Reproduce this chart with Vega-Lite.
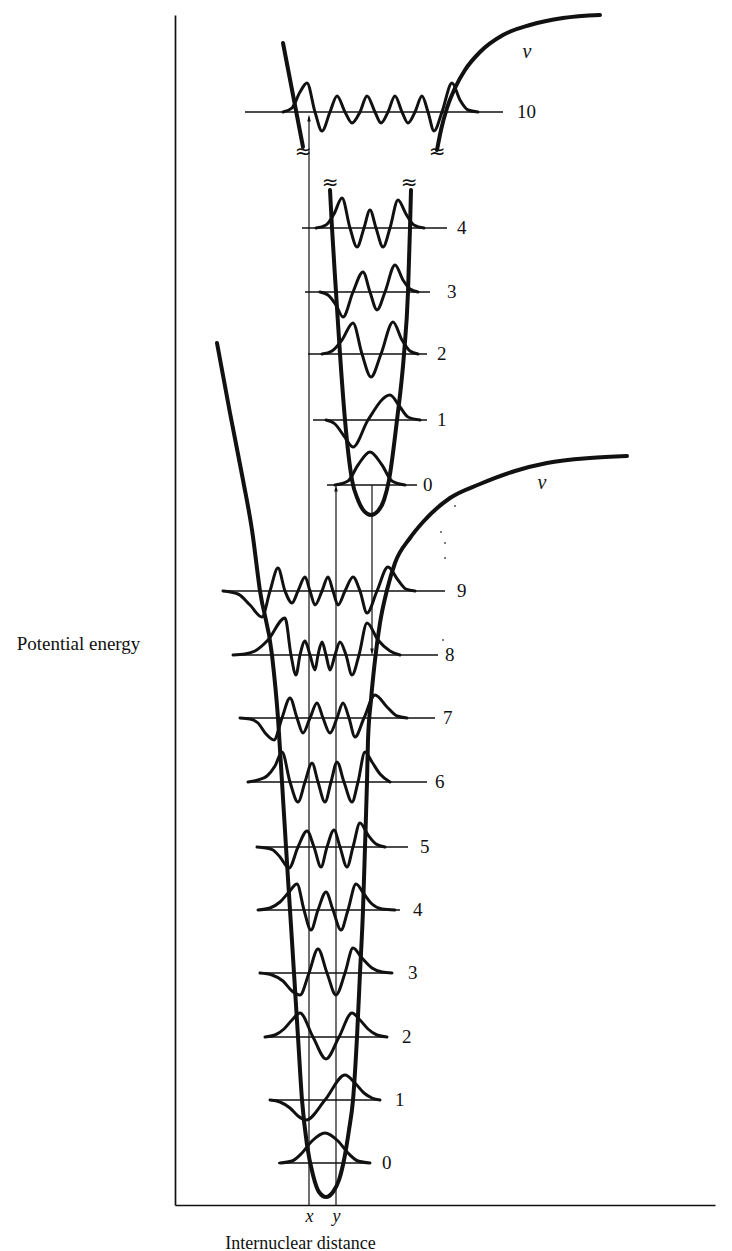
{
  "$schema": "https://vega.github.io/schema/vega-lite/v6.json",
  "width": 540,
  "height": 1190,
  "autosize": {"type": "none"},
  "padding": {"left": 175, "top": 15, "right": 17, "bottom": 46},
  "background": "white",
  "config": {
    "view": {"stroke": null},
    "font": "Liberation Serif",
    "axis": {"grid": false, "domainColor": "#111", "domainWidth": 1.7}
  },
  "datasets": {
    "levels": [
      {"state": "upper", "v": "10", "r": 70, "r2": 328, "E": 1093, "rl": 342},
      {"state": "upper", "v": "4", "r": 127, "r2": 272, "E": 977, "rl": 282},
      {"state": "upper", "v": "3", "r": 130, "r2": 255, "E": 913, "rl": 272},
      {"state": "upper", "v": "2", "r": 133, "r2": 252, "E": 851, "rl": 262},
      {"state": "upper", "v": "1", "r": 138, "r2": 252, "E": 785, "rl": 262},
      {"state": "upper", "v": "0", "r": 152, "r2": 242, "E": 720, "rl": 248},
      {"state": "lower", "v": "9", "r": 48, "r2": 270, "E": 614, "rl": 282},
      {"state": "lower", "v": "8", "r": 58, "r2": 263, "E": 550, "rl": 270},
      {"state": "lower", "v": "7", "r": 65, "r2": 260, "E": 487, "rl": 268},
      {"state": "lower", "v": "6", "r": 72, "r2": 252, "E": 423, "rl": 260},
      {"state": "lower", "v": "5", "r": 82, "r2": 233, "E": 358, "rl": 245},
      {"state": "lower", "v": "4", "r": 83, "r2": 225, "E": 295, "rl": 238},
      {"state": "lower", "v": "3", "r": 85, "r2": 218, "E": 232, "rl": 233},
      {"state": "lower", "v": "2", "r": 90, "r2": 212, "E": 168, "rl": 227},
      {"state": "lower", "v": "1", "r": 95, "r2": 205, "E": 105, "rl": 220},
      {"state": "lower", "v": "0", "r": 103, "r2": 195, "E": 42, "rl": 207}
    ],
    "potentials": [
      {"id": "X", "r": 42, "E": 862}, {"id": "X", "r": 55, "E": 792}, {"id": "X", "r": 68, "E": 725},
      {"id": "X", "r": 77, "E": 675}, {"id": "X", "r": 85, "E": 614}, {"id": "X", "r": 97, "E": 550},
      {"id": "X", "r": 103, "E": 487}, {"id": "X", "r": 107, "E": 423}, {"id": "X", "r": 111, "E": 358},
      {"id": "X", "r": 115, "E": 295}, {"id": "X", "r": 119, "E": 232}, {"id": "X", "r": 123, "E": 168},
      {"id": "X", "r": 127, "E": 105}, {"id": "X", "r": 132, "E": 60}, {"id": "X", "r": 138, "E": 30},
      {"id": "X", "r": 144, "E": 13}, {"id": "X", "r": 151, "E": 8}, {"id": "X", "r": 158, "E": 13},
      {"id": "X", "r": 164, "E": 25}, {"id": "X", "r": 169, "E": 45}, {"id": "X", "r": 174, "E": 75},
      {"id": "X", "r": 178, "E": 105}, {"id": "X", "r": 182, "E": 168}, {"id": "X", "r": 185, "E": 232},
      {"id": "X", "r": 188, "E": 295}, {"id": "X", "r": 190, "E": 358}, {"id": "X", "r": 192, "E": 423},
      {"id": "X", "r": 193, "E": 465}, {"id": "X", "r": 196, "E": 505}, {"id": "X", "r": 200, "E": 545},
      {"id": "X", "r": 205, "E": 582}, {"id": "X", "r": 212, "E": 615}, {"id": "X", "r": 220, "E": 642},
      {"id": "X", "r": 235, "E": 667}, {"id": "X", "r": 248, "E": 683}, {"id": "X", "r": 275, "E": 707},
      {"id": "X", "r": 305, "E": 721}, {"id": "X", "r": 340, "E": 734}, {"id": "X", "r": 372, "E": 742},
      {"id": "X", "r": 415, "E": 747}, {"id": "X", "r": 452, "E": 749},
      {"id": "A", "r": 155, "E": 1015}, {"id": "A", "r": 157, "E": 977}, {"id": "A", "r": 161, "E": 913},
      {"id": "A", "r": 165, "E": 851}, {"id": "A", "r": 170, "E": 785}, {"id": "A", "r": 177, "E": 725},
      {"id": "A", "r": 183, "E": 705}, {"id": "A", "r": 189, "E": 694}, {"id": "A", "r": 196, "E": 690},
      {"id": "A", "r": 203, "E": 694}, {"id": "A", "r": 209, "E": 705}, {"id": "A", "r": 214, "E": 725},
      {"id": "A", "r": 222, "E": 785}, {"id": "A", "r": 229, "E": 851}, {"id": "A", "r": 233, "E": 913},
      {"id": "A", "r": 235, "E": 977}, {"id": "A", "r": 236, "E": 1015},
      {"id": "B1", "r": 108, "E": 1162}, {"id": "B1", "r": 118, "E": 1110}, {"id": "B1", "r": 128, "E": 1058},
      {"id": "B2", "r": 262, "E": 1055}, {"id": "B2", "r": 266, "E": 1075}, {"id": "B2", "r": 272, "E": 1097},
      {"id": "B2", "r": 280, "E": 1117}, {"id": "B2", "r": 290, "E": 1135}, {"id": "B2", "r": 305, "E": 1153},
      {"id": "B2", "r": 328, "E": 1170}, {"id": "B2", "r": 355, "E": 1180}, {"id": "B2", "r": 388, "E": 1187},
      {"id": "B2", "r": 425, "E": 1190}
    ],
    "psi": [
      {"id": "u10", "r": 108, "E": 1093}, {"id": "u10", "r": 117, "E": 1097}, {"id": "u10", "r": 125, "E": 1113},
      {"id": "u10", "r": 132, "E": 1122}, {"id": "u10", "r": 140, "E": 1093}, {"id": "u10", "r": 147, "E": 1074},
      {"id": "u10", "r": 155, "E": 1093}, {"id": "u10", "r": 162, "E": 1109}, {"id": "u10", "r": 170, "E": 1093},
      {"id": "u10", "r": 177, "E": 1082}, {"id": "u10", "r": 185, "E": 1093}, {"id": "u10", "r": 192, "E": 1109},
      {"id": "u10", "r": 200, "E": 1093}, {"id": "u10", "r": 206, "E": 1082}, {"id": "u10", "r": 213, "E": 1093},
      {"id": "u10", "r": 220, "E": 1109}, {"id": "u10", "r": 227, "E": 1093}, {"id": "u10", "r": 233, "E": 1082},
      {"id": "u10", "r": 240, "E": 1093}, {"id": "u10", "r": 247, "E": 1109}, {"id": "u10", "r": 253, "E": 1093},
      {"id": "u10", "r": 259, "E": 1074}, {"id": "u10", "r": 267, "E": 1093}, {"id": "u10", "r": 277, "E": 1122},
      {"id": "u10", "r": 285, "E": 1105}, {"id": "u10", "r": 293, "E": 1095}, {"id": "u10", "r": 303, "E": 1093},
      {"id": "u4", "r": 141, "E": 977}, {"id": "u4", "r": 151, "E": 980}, {"id": "u4", "r": 159, "E": 991},
      {"id": "u4", "r": 167, "E": 1007}, {"id": "u4", "r": 175, "E": 977}, {"id": "u4", "r": 182, "E": 958},
      {"id": "u4", "r": 189, "E": 977}, {"id": "u4", "r": 195, "E": 995}, {"id": "u4", "r": 201, "E": 977},
      {"id": "u4", "r": 208, "E": 958}, {"id": "u4", "r": 215, "E": 977}, {"id": "u4", "r": 223, "E": 1005},
      {"id": "u4", "r": 231, "E": 991}, {"id": "u4", "r": 239, "E": 980}, {"id": "u4", "r": 249, "E": 977},
      {"id": "u3", "r": 145, "E": 913}, {"id": "u3", "r": 153, "E": 910}, {"id": "u3", "r": 161, "E": 900},
      {"id": "u3", "r": 168, "E": 888}, {"id": "u3", "r": 178, "E": 913}, {"id": "u3", "r": 188, "E": 933},
      {"id": "u3", "r": 195, "E": 913}, {"id": "u3", "r": 202, "E": 895}, {"id": "u3", "r": 210, "E": 913},
      {"id": "u3", "r": 220, "E": 940}, {"id": "u3", "r": 228, "E": 925}, {"id": "u3", "r": 235, "E": 916},
      {"id": "u3", "r": 243, "E": 913},
      {"id": "u2", "r": 147, "E": 851}, {"id": "u2", "r": 157, "E": 854}, {"id": "u2", "r": 167, "E": 865},
      {"id": "u2", "r": 178, "E": 882}, {"id": "u2", "r": 187, "E": 851}, {"id": "u2", "r": 196, "E": 828},
      {"id": "u2", "r": 206, "E": 851}, {"id": "u2", "r": 218, "E": 883}, {"id": "u2", "r": 227, "E": 865},
      {"id": "u2", "r": 235, "E": 854}, {"id": "u2", "r": 243, "E": 851},
      {"id": "u1", "r": 151, "E": 785}, {"id": "u1", "r": 160, "E": 781}, {"id": "u1", "r": 169, "E": 769},
      {"id": "u1", "r": 178, "E": 758}, {"id": "u1", "r": 193, "E": 785}, {"id": "u1", "r": 215, "E": 810},
      {"id": "u1", "r": 225, "E": 798}, {"id": "u1", "r": 233, "E": 788}, {"id": "u1", "r": 245, "E": 785},
      {"id": "u0", "r": 160, "E": 720}, {"id": "u0", "r": 173, "E": 724}, {"id": "u0", "r": 183, "E": 740},
      {"id": "u0", "r": 195, "E": 753}, {"id": "u0", "r": 207, "E": 740}, {"id": "u0", "r": 217, "E": 724},
      {"id": "u0", "r": 230, "E": 720},
      {"id": "l9", "r": 48, "E": 614}, {"id": "l9", "r": 63, "E": 611}, {"id": "l9", "r": 75, "E": 600},
      {"id": "l9", "r": 87, "E": 588}, {"id": "l9", "r": 95, "E": 614}, {"id": "l9", "r": 103, "E": 637},
      {"id": "l9", "r": 110, "E": 614}, {"id": "l9", "r": 117, "E": 602}, {"id": "l9", "r": 123, "E": 614},
      {"id": "l9", "r": 130, "E": 628}, {"id": "l9", "r": 135, "E": 614}, {"id": "l9", "r": 140, "E": 600},
      {"id": "l9", "r": 147, "E": 614}, {"id": "l9", "r": 153, "E": 628}, {"id": "l9", "r": 158, "E": 614},
      {"id": "l9", "r": 163, "E": 600}, {"id": "l9", "r": 170, "E": 614}, {"id": "l9", "r": 178, "E": 628},
      {"id": "l9", "r": 185, "E": 614}, {"id": "l9", "r": 192, "E": 592}, {"id": "l9", "r": 202, "E": 614},
      {"id": "l9", "r": 213, "E": 638}, {"id": "l9", "r": 223, "E": 625}, {"id": "l9", "r": 231, "E": 616},
      {"id": "l9", "r": 240, "E": 614},
      {"id": "l8", "r": 58, "E": 550}, {"id": "l8", "r": 70, "E": 551}, {"id": "l8", "r": 80, "E": 554},
      {"id": "l8", "r": 93, "E": 565}, {"id": "l8", "r": 110, "E": 587}, {"id": "l8", "r": 116, "E": 550},
      {"id": "l8", "r": 121, "E": 530}, {"id": "l8", "r": 125, "E": 550}, {"id": "l8", "r": 130, "E": 564},
      {"id": "l8", "r": 135, "E": 550}, {"id": "l8", "r": 140, "E": 535}, {"id": "l8", "r": 143, "E": 550},
      {"id": "l8", "r": 147, "E": 563}, {"id": "l8", "r": 151, "E": 550}, {"id": "l8", "r": 155, "E": 535},
      {"id": "l8", "r": 160, "E": 550}, {"id": "l8", "r": 165, "E": 563}, {"id": "l8", "r": 171, "E": 550},
      {"id": "l8", "r": 177, "E": 530}, {"id": "l8", "r": 184, "E": 550}, {"id": "l8", "r": 192, "E": 582},
      {"id": "l8", "r": 203, "E": 565}, {"id": "l8", "r": 215, "E": 554}, {"id": "l8", "r": 225, "E": 550},
      {"id": "l7", "r": 65, "E": 487}, {"id": "l7", "r": 75, "E": 486}, {"id": "l7", "r": 83, "E": 482},
      {"id": "l7", "r": 91, "E": 471}, {"id": "l7", "r": 99, "E": 465}, {"id": "l7", "r": 107, "E": 487},
      {"id": "l7", "r": 115, "E": 507}, {"id": "l7", "r": 122, "E": 487}, {"id": "l7", "r": 128, "E": 472},
      {"id": "l7", "r": 135, "E": 487}, {"id": "l7", "r": 142, "E": 502}, {"id": "l7", "r": 148, "E": 487},
      {"id": "l7", "r": 155, "E": 472}, {"id": "l7", "r": 162, "E": 487}, {"id": "l7", "r": 168, "E": 502},
      {"id": "l7", "r": 174, "E": 487}, {"id": "l7", "r": 180, "E": 468}, {"id": "l7", "r": 189, "E": 487},
      {"id": "l7", "r": 200, "E": 510}, {"id": "l7", "r": 212, "E": 498}, {"id": "l7", "r": 222, "E": 489},
      {"id": "l7", "r": 232, "E": 487},
      {"id": "l6", "r": 73, "E": 423}, {"id": "l6", "r": 83, "E": 425}, {"id": "l6", "r": 92, "E": 429},
      {"id": "l6", "r": 100, "E": 439}, {"id": "l6", "r": 107, "E": 453}, {"id": "l6", "r": 115, "E": 423},
      {"id": "l6", "r": 123, "E": 403}, {"id": "l6", "r": 130, "E": 423}, {"id": "l6", "r": 137, "E": 442},
      {"id": "l6", "r": 143, "E": 423}, {"id": "l6", "r": 150, "E": 403}, {"id": "l6", "r": 156, "E": 423},
      {"id": "l6", "r": 162, "E": 443}, {"id": "l6", "r": 169, "E": 423}, {"id": "l6", "r": 177, "E": 403},
      {"id": "l6", "r": 183, "E": 423}, {"id": "l6", "r": 190, "E": 453}, {"id": "l6", "r": 197, "E": 443},
      {"id": "l6", "r": 205, "E": 431}, {"id": "l6", "r": 215, "E": 423},
      {"id": "l5", "r": 82, "E": 358}, {"id": "l5", "r": 91, "E": 357}, {"id": "l5", "r": 98, "E": 355},
      {"id": "l5", "r": 105, "E": 348}, {"id": "l5", "r": 114, "E": 337}, {"id": "l5", "r": 123, "E": 358},
      {"id": "l5", "r": 132, "E": 374}, {"id": "l5", "r": 139, "E": 358}, {"id": "l5", "r": 146, "E": 338},
      {"id": "l5", "r": 152, "E": 358}, {"id": "l5", "r": 159, "E": 375}, {"id": "l5", "r": 165, "E": 358},
      {"id": "l5", "r": 172, "E": 338}, {"id": "l5", "r": 178, "E": 358}, {"id": "l5", "r": 185, "E": 382},
      {"id": "l5", "r": 193, "E": 370}, {"id": "l5", "r": 201, "E": 361}, {"id": "l5", "r": 210, "E": 358},
      {"id": "l4", "r": 83, "E": 295}, {"id": "l4", "r": 95, "E": 297}, {"id": "l4", "r": 105, "E": 303},
      {"id": "l4", "r": 114, "E": 313}, {"id": "l4", "r": 122, "E": 321}, {"id": "l4", "r": 129, "E": 295},
      {"id": "l4", "r": 136, "E": 275}, {"id": "l4", "r": 143, "E": 295}, {"id": "l4", "r": 151, "E": 313},
      {"id": "l4", "r": 158, "E": 295}, {"id": "l4", "r": 166, "E": 275}, {"id": "l4", "r": 173, "E": 295},
      {"id": "l4", "r": 181, "E": 321}, {"id": "l4", "r": 189, "E": 311}, {"id": "l4", "r": 197, "E": 301},
      {"id": "l4", "r": 207, "E": 296}, {"id": "l4", "r": 220, "E": 295},
      {"id": "l3", "r": 85, "E": 232}, {"id": "l3", "r": 97, "E": 230}, {"id": "l3", "r": 108, "E": 224},
      {"id": "l3", "r": 117, "E": 214}, {"id": "l3", "r": 125, "E": 210}, {"id": "l3", "r": 134, "E": 232},
      {"id": "l3", "r": 143, "E": 256}, {"id": "l3", "r": 152, "E": 232}, {"id": "l3", "r": 161, "E": 210},
      {"id": "l3", "r": 170, "E": 232}, {"id": "l3", "r": 178, "E": 257}, {"id": "l3", "r": 187, "E": 247},
      {"id": "l3", "r": 197, "E": 237}, {"id": "l3", "r": 207, "E": 233}, {"id": "l3", "r": 217, "E": 232},
      {"id": "l2", "r": 90, "E": 168}, {"id": "l2", "r": 100, "E": 170}, {"id": "l2", "r": 109, "E": 176},
      {"id": "l2", "r": 117, "E": 185}, {"id": "l2", "r": 125, "E": 192}, {"id": "l2", "r": 138, "E": 168},
      {"id": "l2", "r": 151, "E": 146}, {"id": "l2", "r": 164, "E": 168}, {"id": "l2", "r": 177, "E": 192},
      {"id": "l2", "r": 185, "E": 185}, {"id": "l2", "r": 193, "E": 176}, {"id": "l2", "r": 202, "E": 170},
      {"id": "l2", "r": 212, "E": 168},
      {"id": "l1", "r": 95, "E": 105}, {"id": "l1", "r": 105, "E": 103}, {"id": "l1", "r": 115, "E": 97},
      {"id": "l1", "r": 123, "E": 89}, {"id": "l1", "r": 131, "E": 85}, {"id": "l1", "r": 150, "E": 105},
      {"id": "l1", "r": 170, "E": 130}, {"id": "l1", "r": 180, "E": 122}, {"id": "l1", "r": 189, "E": 112},
      {"id": "l1", "r": 197, "E": 107}, {"id": "l1", "r": 205, "E": 105},
      {"id": "l0", "r": 105, "E": 42}, {"id": "l0", "r": 117, "E": 44}, {"id": "l0", "r": 127, "E": 52},
      {"id": "l0", "r": 137, "E": 64}, {"id": "l0", "r": 150, "E": 72}, {"id": "l0", "r": 163, "E": 64},
      {"id": "l0", "r": 173, "E": 52}, {"id": "l0", "r": 183, "E": 44}, {"id": "l0", "r": 195, "E": 42}
    ],
    "transitions": [
      {"r": 134, "E": 0, "E2": 1088},
      {"r": 161, "E": 0, "E2": 716},
      {"r": 197, "E": 720, "E2": 553}
    ],
    "arrows": [
      {"r": 134, "E": 1087, "dir": "up"},
      {"r": 161, "E": 717, "dir": "up"},
      {"r": 197, "E": 553, "dir": "down"}
    ],
    "breaks": [
      {"r": 128, "E": 1053}, {"r": 262, "E": 1053}, {"r": 155, "E": 1022}, {"r": 234, "E": 1022}
    ],
    "nu": [
      {"r": 352, "E": 1153}, {"r": 367, "E": 722}
    ],
    "dots": [
      {"r": 280, "E": 699}, {"r": 266, "E": 673}, {"r": 270, "E": 662}, {"r": 270, "E": 647}, {"r": 268, "E": 565}
    ]
  },
  "layer": [
    {
      "data": {"name": "levels"},
      "mark": {"type": "rule", "color": "#111", "strokeWidth": 1.5},
      "encoding": {
        "x": {"field": "r", "type": "quantitative", "scale": {"domain": [0, 540], "nice": false, "zero": false},
          "axis": {"title": "Internuclear distance", "values": [134, 161], "labelExpr": "datum.value == 134 ? 'x' : 'y'",
            "labelFontStyle": "italic", "labelFont": "Liberation Serif", "labelFontSize": 18, "labelColor": "#111",
            "ticks": false, "labelPadding": 2, "labelFlush": false,
            "titleFont": "Liberation Serif", "titleFontSize": 18, "titleFontWeight": "normal", "titleColor": "#111",
            "titleX": 125, "titleY": 38, "titleAlign": "center", "titleBaseline": "middle"}},
        "x2": {"field": "r2"},
        "y": {"field": "E", "type": "quantitative", "scale": {"domain": [0, 1190], "nice": false, "zero": false},
          "axis": {"title": "Potential energy", "labels": false, "ticks": false, "titleAngle": 0,
            "titleX": -97, "titleY": 628, "titleAlign": "center", "titleBaseline": "middle",
            "titleFont": "Liberation Serif", "titleFontSize": 19, "titleFontWeight": "normal", "titleColor": "#111"}}
      }
    },
    {
      "data": {"name": "transitions"},
      "mark": {"type": "rule", "color": "#111", "strokeWidth": 1.2},
      "encoding": {
        "x": {"field": "r", "type": "quantitative", "scale": {"domain": [0, 540], "nice": false, "zero": false}},
        "y": {"field": "E", "type": "quantitative", "scale": {"domain": [0, 1190], "nice": false, "zero": false}},
        "y2": {"field": "E2"}
      }
    },
    {
      "data": {"name": "arrows"},
      "transform": [{"filter": "datum.dir == 'up'"}],
      "mark": {"type": "point", "filled": true, "color": "#111", "opacity": 1, "size": 50, "shape": "M0,-1L0.5,1L-0.5,1Z"},
      "encoding": {
        "x": {"field": "r", "type": "quantitative", "scale": {"domain": [0, 540], "nice": false, "zero": false}},
        "y": {"field": "E", "type": "quantitative", "scale": {"domain": [0, 1190], "nice": false, "zero": false}}
      }
    },
    {
      "data": {"name": "arrows"},
      "transform": [{"filter": "datum.dir == 'down'"}],
      "mark": {"type": "point", "filled": true, "color": "#111", "opacity": 1, "size": 50, "shape": "M0,1L0.5,-1L-0.5,-1Z"},
      "encoding": {
        "x": {"field": "r", "type": "quantitative", "scale": {"domain": [0, 540], "nice": false, "zero": false}},
        "y": {"field": "E", "type": "quantitative", "scale": {"domain": [0, 1190], "nice": false, "zero": false}}
      }
    },
    {
      "data": {"name": "psi"},
      "mark": {"type": "line", "color": "#111", "strokeWidth": 3, "interpolate": "monotone", "strokeCap": "round", "strokeJoin": "round"},
      "encoding": {
        "x": {"field": "r", "type": "quantitative", "scale": {"domain": [0, 540], "nice": false, "zero": false}},
        "y": {"field": "E", "type": "quantitative", "scale": {"domain": [0, 1190], "nice": false, "zero": false}},
        "detail": {"field": "id"}
      }
    },
    {
      "data": {"name": "potentials"},
      "mark": {"type": "line", "color": "#111", "strokeWidth": 4, "interpolate": "monotone", "strokeCap": "round", "strokeJoin": "round"},
      "encoding": {
        "x": {"field": "r", "type": "quantitative", "scale": {"domain": [0, 540], "nice": false, "zero": false}},
        "y": {"field": "E", "type": "quantitative", "scale": {"domain": [0, 1190], "nice": false, "zero": false}},
        "detail": {"field": "id"}
      }
    },
    {
      "data": {"name": "levels"},
      "mark": {"type": "text", "color": "#111", "font": "Liberation Serif", "fontSize": 19, "align": "left", "baseline": "middle"},
      "encoding": {
        "x": {"field": "rl", "type": "quantitative", "scale": {"domain": [0, 540], "nice": false, "zero": false}},
        "y": {"field": "E", "type": "quantitative", "scale": {"domain": [0, 1190], "nice": false, "zero": false}},
        "text": {"field": "v"}
      }
    },
    {
      "data": {"name": "breaks"},
      "mark": {"type": "text", "text": "≈", "color": "#111", "font": "DejaVu Sans", "fontSize": 20, "align": "center", "baseline": "middle"},
      "encoding": {
        "x": {"field": "r", "type": "quantitative", "scale": {"domain": [0, 540], "nice": false, "zero": false}},
        "y": {"field": "E", "type": "quantitative", "scale": {"domain": [0, 1190], "nice": false, "zero": false}}
      }
    },
    {
      "data": {"name": "nu"},
      "mark": {"type": "text", "text": "ν", "color": "#111", "font": "Liberation Serif", "fontStyle": "italic", "fontSize": 20, "align": "center", "baseline": "middle"},
      "encoding": {
        "x": {"field": "r", "type": "quantitative", "scale": {"domain": [0, 540], "nice": false, "zero": false}},
        "y": {"field": "E", "type": "quantitative", "scale": {"domain": [0, 1190], "nice": false, "zero": false}}
      }
    },
    {
      "data": {"name": "dots"},
      "mark": {"type": "circle", "color": "#555", "opacity": 1, "size": 4},
      "encoding": {
        "x": {"field": "r", "type": "quantitative", "scale": {"domain": [0, 540], "nice": false, "zero": false}},
        "y": {"field": "E", "type": "quantitative", "scale": {"domain": [0, 1190], "nice": false, "zero": false}}
      }
    }
  ]
}
